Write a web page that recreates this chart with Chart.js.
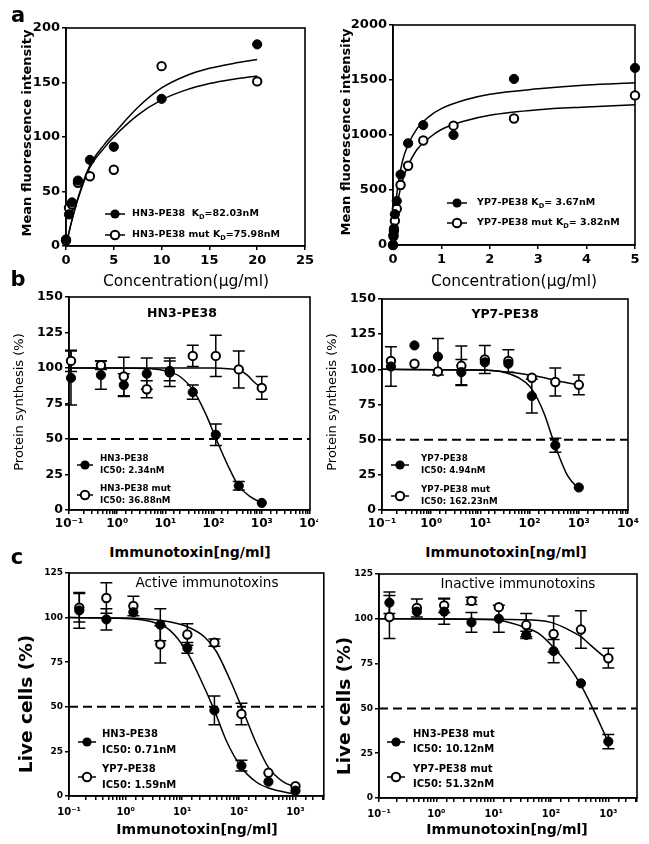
<!DOCTYPE html>
<html>
<head>
<meta charset="utf-8">
<script src="https://cdn.jsdelivr.net/npm/chart.js@4.4.0/dist/chart.umd.min.js"></script>
<style>
  body { margin: 0; background: #fff; width: 649px; height: 844px; position: relative; overflow: hidden; font-family: "DejaVu Sans", sans-serif; color: #000; }
  canvas { position: absolute; }
  .t { position: absolute; white-space: nowrap; transform: translate(-50%, -50%); }
  .v { transform: translate(-50%, -50%) rotate(-90deg); }
  .b { font-weight: bold; }
</style>
</head>
<body>
<canvas id="aL"></canvas>
<canvas id="aR"></canvas>
<canvas id="bL"></canvas>
<canvas id="bR"></canvas>
<canvas id="cL"></canvas>
<canvas id="cR"></canvas>

<div class="t b" style="left:18px;top:15px;font-size:21px">a</div>
<div class="t b" style="left:18px;top:279px;font-size:21px">b</div>
<div class="t b" style="left:17px;top:557px;font-size:21px">c</div>

<div class="t v b" style="left:26px;top:133px;font-size:13px">Mean fluorescence intensity</div>
<div class="t v b" style="left:345px;top:132px;font-size:13px">Mean fluorescence intensity</div>
<div class="t" style="left:186px;top:281px;font-size:15.5px">Concentration(μg/ml)</div>
<div class="t" style="left:514px;top:281px;font-size:15.5px">Concentration(μg/ml)</div>

<div class="t v" style="left:18px;top:402px;font-size:13px">Protein synthesis (%)</div>
<div class="t v" style="left:331px;top:402px;font-size:13px">Protein synthesis (%)</div>
<div class="t b" style="left:182px;top:312px;font-size:12.5px">HN3-PE38</div>
<div class="t b" style="left:505px;top:313px;font-size:12.5px">YP7-PE38</div>
<div class="t b" style="left:190px;top:552px;font-size:14px">Immunotoxin[ng/ml]</div>
<div class="t b" style="left:506px;top:552px;font-size:14px">Immunotoxin[ng/ml]</div>

<div class="t v b" style="left:25px;top:704px;font-size:18.5px">Live cells (%)</div>
<div class="t v b" style="left:343px;top:706px;font-size:18.5px">Live cells (%)</div>
<div class="t" style="left:207px;top:582px;font-size:13.6px">Active immunotoxins</div>
<div class="t" style="left:518px;top:583px;font-size:13.6px">Inactive immunotoxins</div>
<div class="t b" style="left:197px;top:829px;font-size:14px">Immunotoxin[ng/ml]</div>
<div class="t b" style="left:507px;top:829px;font-size:14px">Immunotoxin[ng/ml]</div>

<script>
// ---- a: binding (mean fluorescence intensity) ----
var hn3BindX = [0, 0.3125, 0.625, 1.25, 2.5, 5, 10, 20];
var hn3Mfi = [6, 29, 40, 60, 79, 91, 135, 185];
var hn3MutMfi = [5, 35, 38, 58, 64, 70, 165, 151];
var hn3FitX = [0, 0.3, 0.6, 1.25, 2.5, 4, 5, 7.5, 10, 12.5, 15, 17.5, 20];
var hn3Fit = [0, 12, 23, 44, 74, 93, 103, 127, 145, 156, 163, 167.5, 171];
var hn3MutFit = [0, 12, 23, 43, 72, 90, 100, 120, 134, 143, 149, 153, 156];

var yp7BindX = [0, 0.0098, 0.0195, 0.039, 0.078, 0.156, 0.3125, 0.625, 1.25, 2.5, 5];
var yp7Mfi = [0, 90, 150, 280, 400, 640, 925, 1090, 1000, 1510, 1610];
var yp7MutMfi = [0, 80, 130, 220, 330, 545, 720, 950, 1085, 1150, 1360];
var yp7FitX = [0, 0.05, 0.1, 0.2, 0.3, 0.5, 0.75, 1, 1.5, 2, 3, 4, 5];
var yp7Fit = [0, 330, 540, 770, 900, 1060, 1170, 1240, 1320, 1370, 1420, 1455, 1475];
var yp7MutFit = [0, 240, 400, 590, 710, 870, 975, 1050, 1130, 1180, 1230, 1255, 1275];

// ---- b: protein synthesis (%) ----
var hn3DoseX = [0.11, 0.46, 1.37, 4.1, 12.3, 37, 111, 333, 1000];
var hn3Synth = [93, 95, 88, 96, 98, 83, 53, 17, 5];
var hn3SynthSd = [19, 10, 8, 11, 7, 5, 7.5, 3, 0];
var hn3MutSynth = [105, 102, 94, 85, 97, 108.5, 108.5, 99, 86];
var hn3MutSynthSd = [7.5, 3, 13.5, 6, 10, 7.5, 14.5, 13, 8];
var hn3SynthFitX = [0.1, 1, 5, 10, 20, 40, 70, 110, 200, 330, 600, 1000];
var hn3SynthFit = [100, 100, 99.5, 98, 94, 83, 67, 51, 31, 17, 9, 5];
var hn3MutSynthFitX = [0.1, 100, 200, 333, 500, 700, 1000];
var hn3MutSynthFit = [100, 100, 99.5, 98.5, 95, 90, 86];

var doseX = [0.152, 0.457, 1.37, 4.1, 12.3, 37, 111, 333, 1000];
var yp7Synth = [102, 117, 109, 98, 105, 104, 81, 46, 16];
var yp7SynthSd = [14, 0, 13, 9, 0, 0, 12, 5, 0];
var yp7MutSynth = [106, 104, 98.5, 102.5, 107, 106, 94, 91, 89];
var yp7MutSynthSd = [0, 0, 0, 14, 10, 8, 0, 10, 7];
var yp7SynthFitX = [0.1, 10, 30, 60, 100, 150, 200, 300, 400, 600, 1000];
var yp7SynthFit = [100, 99.5, 98, 94, 88, 78, 68, 50, 38, 24, 15];
var yp7MutSynthFitX = [0.1, 10, 50, 100, 200, 400, 1000];
var yp7MutSynthFit = [100, 99.5, 97.5, 96, 94, 91.5, 89];

// ---- c: live cells (%) ----
var activeHn3 = [104, 99, 103, 96, 83, 48, 17, 8, 3];
var activeHn3Sd = [10, 6, 0, 9, 3, 8, 3, 0, 0];
var activeYp7 = [105.5, 111, 106.5, 85, 90.5, 86, 46, 13, 5.5];
var activeYp7Sd = [8, 8.5, 5.5, 10.5, 6, 2, 6, 0, 0];
var activeHn3FitX = [0.1, 1, 3, 6, 12, 20, 37, 60, 111, 200, 333, 1000];
var activeHn3Fit = [100, 99.5, 97.5, 93, 81, 67, 48, 31, 16, 8, 4.5, 1];
var activeYp7FitX = [0.1, 1, 4, 12, 25, 40, 70, 111, 200, 333, 600, 1000];
var activeYp7Fit = [100, 99.8, 98.5, 95, 89, 81, 65, 50, 30, 16, 8, 5];

var inactiveHn3 = [109, 104, 104, 98, 100, 91, 82, 64, 31.5];
var inactiveHn3Sd = [6, 0, 7, 5.5, 7.5, 2, 6.5, 0, 4];
var inactiveYp7 = [101, 106, 107.5, 110, 106.5, 96.5, 91.5, 94, 78];
var inactiveYp7Sd = [12, 5, 4, 2, 0, 6.5, 10, 10.5, 5.5];
var inactiveHn3FitX = [0.1, 10, 37, 60, 111, 200, 333, 500, 700, 1000];
var inactiveHn3Fit = [100, 99.5, 95, 92, 84, 74, 63, 52, 42, 31];
var inactiveYp7FitX = [0.1, 30, 100, 200, 333, 500, 700, 1000];
var inactiveYp7Fit = [100, 99.5, 98, 94, 90, 85, 81, 77];

var FONT = '"DejaVu Sans", sans-serif';
var sup = { '-1': '⁻¹', '0': '⁰', '1': '¹', '2': '²', '3': '³', '4': '⁴' };

function pts(xs, ys) {
  return xs.map(function (x, i) { return { x: x, y: ys[i] }; });
}
function decadeLabel(v) {
  var p = Math.log10(v), r = Math.round(p);
  if (Math.abs(p - r) > 1e-6 || sup[r] === undefined) return '';
  return '10' + sup[r];
}
function plain(v) { return String(v); }

function filled(xs, ys, sd) {
  return { data: pts(xs, ys), errs: sd, showLine: false, pointRadius: 4.6, pointBackgroundColor: '#000', pointBorderColor: '#000', pointBorderWidth: 1, order: 0, clip: false };
}
function open(xs, ys, sd) {
  return { data: pts(xs, ys), errs: sd, showLine: false, pointRadius: 4.2, pointBackgroundColor: '#fff', pointBorderColor: '#000', pointBorderWidth: 2, order: 1, clip: false };
}
function fit(xs, ys) {
  return { data: pts(xs, ys), showLine: true, borderColor: '#000', borderWidth: 1.5, pointRadius: 0, cubicInterpolationMode: 'monotone', order: 3, clip: false };
}
function cut(x0, x1) {
  return { data: [{ x: x0, y: 50 }, { x: x1, y: 50 }], showLine: true, borderColor: '#000', borderWidth: 2, borderDash: [9, 5], pointRadius: 0, order: 4 };
}

// error bars and the box round the plot
var frame = {
  id: 'frame',
  beforeDatasetsDraw: function (chart) {
    var ctx = chart.ctx, sx = chart.scales.x, sy = chart.scales.y;
    ctx.save();
    ctx.strokeStyle = '#000';
    ctx.lineWidth = 1.5;
    chart.data.datasets.forEach(function (ds) {
      if (!ds.errs) return;
      ds.data.forEach(function (p, i) {
        var e = ds.errs[i];
        if (!e) return;
        var x = sx.getPixelForValue(p.x);
        var y1 = sy.getPixelForValue(p.y + e), y2 = sy.getPixelForValue(p.y - e);
        ctx.beginPath();
        ctx.moveTo(x, y1); ctx.lineTo(x, y2);
        ctx.moveTo(x - 6, y1); ctx.lineTo(x + 6, y1);
        ctx.moveTo(x - 6, y2); ctx.lineTo(x + 6, y2);
        ctx.stroke();
      });
    });
    var a = chart.chartArea;
    ctx.lineWidth = 1.6;
    ctx.strokeRect(a.left, a.top, a.right - a.left, a.bottom - a.top);
    ctx.restore();
  }
};

// GraphPad style key: short line with a marker, text beside it
var key = {
  id: 'key',
  afterDatasetsDraw: function (chart, args, o) {
    if (!o.items) return;
    var ctx = chart.ctx, a = chart.chartArea;
    o.items.forEach(function (it) {
      var x = a.left + it.x, y = a.top + it.y;
      ctx.save();
      ctx.strokeStyle = '#000';
      ctx.lineWidth = 1.5;
      ctx.beginPath(); ctx.moveTo(x - o.seg, y); ctx.lineTo(x + o.seg, y); ctx.stroke();
      ctx.beginPath(); ctx.arc(x, y, it.filled ? 4.6 : 4.2, 0, Math.PI * 2);
      ctx.fillStyle = it.filled ? '#000' : '#fff';
      ctx.fill();
      if (!it.filled) { ctx.lineWidth = 2; ctx.stroke(); }
      ctx.fillStyle = '#000';
      ctx.textBaseline = 'middle';
      it.lines.forEach(function (line, k) {
        var tx = x + o.tx, ty = y + o.dy[k];
        line.forEach(function (seg) {
          ctx.font = seg[1] ? 'bold ' + (o.size * 0.7) + 'px ' + FONT : 'bold ' + o.size + 'px ' + FONT;
          ctx.fillText(seg[0], tx, seg[1] ? ty + 3 : ty);
          tx += ctx.measureText(seg[0]).width;
        });
      });
      ctx.restore();
    });
  }
};

function panel(id, box, plot, xs, ys, datasets, legend) {
  var cv = document.getElementById(id);
  cv.width = box[2]; cv.height = box[3];
  cv.style.left = box[0] + 'px'; cv.style.top = box[1] + 'px';
  var yw = plot[0] - box[0], xh = box[1] + box[3] - plot[3];
  var axis = function (o, fitFn) {
    return Object.assign({
      grid: { display: true, drawOnChartArea: false, drawTicks: true, tickLength: 4, color: '#000', lineWidth: 1.5 },
      border: { display: true, color: '#000', width: 1.6 },
      afterFit: fitFn
    }, o);
  };
  new Chart(cv, {
    type: 'scatter',
    data: { datasets: datasets },
    options: {
      responsive: false, animation: false, events: [],
      layout: { padding: { top: plot[1] - box[1], right: box[0] + box[2] - plot[2], left: 0, bottom: 0 } },
      plugins: { legend: { display: false }, tooltip: { enabled: false }, key: legend },
      scales: {
        x: axis(xs, function (s) { s.height = xh; s.paddingLeft = 0; s.paddingRight = 0; }),
        y: axis(ys, function (s) { s.width = yw; s.paddingTop = 0; s.paddingBottom = 0; })
      }
    },
    plugins: [frame, key]
  });
}

function linX(max, step, size) {
  return { type: 'linear', min: 0, max: max, ticks: { stepSize: step, color: '#000', padding: 3, maxRotation: 0, callback: plain, font: { family: FONT, size: size, weight: 'bold' } } };
}
function logX(max, size, pad) {
  return { type: 'logarithmic', min: 0.1, max: max, ticks: { autoSkip: false, color: '#000', padding: pad, maxRotation: 0, callback: decadeLabel, font: { family: FONT, size: size, weight: 'bold' } } };
}
function linY(max, step, size) {
  return { type: 'linear', min: 0, max: max, ticks: { stepSize: step, color: '#000', padding: 2, callback: plain, font: { family: FONT, size: size, weight: 'bold' } } };
}

panel('aL', [0, 10, 322, 266], [66, 28, 305, 246], linX(25, 5, 13), linY(200, 50, 13), [
  filled(hn3BindX, hn3Mfi), open(hn3BindX, hn3MutMfi),
  fit(hn3FitX, hn3Fit), fit(hn3FitX, hn3MutFit)
], { seg: 10, tx: 17, size: 9.5, dy: [0], items: [
  { x: 49, y: 186, filled: true, lines: [[['HN3-PE38  K'], ['D', 1], ['=82.03nM']]] },
  { x: 49, y: 207, filled: false, lines: [[['HN3-PE38 mut K'], ['D', 1], ['=75.98nM']]] }
] });

panel('aR', [328, 8, 321, 268], [393, 25, 635, 245], linX(5, 1, 13), linY(2000, 500, 13), [
  filled(yp7BindX, yp7Mfi), open(yp7BindX, yp7MutMfi),
  fit(yp7FitX, yp7Fit), fit(yp7FitX, yp7MutFit)
], { seg: 10, tx: 20, size: 9.5, dy: [0], items: [
  { x: 64, y: 178, filled: true, lines: [[['YP7-PE38 K'], ['D', 1], ['= 3.67nM']]] },
  { x: 64, y: 198, filled: false, lines: [[['YP7-PE38 mut K'], ['D', 1], ['= 3.82nM']]] }
] });

panel('bL', [0, 288, 318, 240], [69, 297, 310, 510], logX(10000, 12, 3), linY(150, 25, 12.5), [
  filled(hn3DoseX, hn3Synth, hn3SynthSd), open(hn3DoseX, hn3MutSynth, hn3MutSynthSd),
  fit(hn3SynthFitX, hn3SynthFit), fit(hn3MutSynthFitX, hn3MutSynthFit), cut(0.1, 10000)
], { seg: 8, tx: 15, size: 8.7, dy: [-6, 6], items: [
  { x: 16, y: 168, filled: true, lines: [[['HN3-PE38']], [['IC50: 2.34nM']]] },
  { x: 16, y: 198, filled: false, lines: [[['HN3-PE38 mut']], [['IC50: 36.88nM']]] }
] });

panel('bR', [328, 288, 321, 240], [382, 299, 628, 510], logX(10000, 12, 3), linY(150, 25, 12.5), [
  filled(doseX, yp7Synth, yp7SynthSd), open(doseX, yp7MutSynth, yp7MutSynthSd),
  fit(yp7SynthFitX, yp7SynthFit), fit(yp7MutSynthFitX, yp7MutSynthFit), cut(0.1, 10000)
], { seg: 9, tx: 21, size: 8.7, dy: [-6, 6], items: [
  { x: 18, y: 166, filled: true, lines: [[['YP7-PE38']], [['IC50: 4.94nM']]] },
  { x: 18, y: 197, filled: false, lines: [[['YP7-PE38 mut']], [['IC50: 162.23nM']]] }
] });

panel('cL', [0, 565, 330, 262], [69, 573, 325, 796], logX(3162, 10, 6), linY(125, 25, 9), [
  filled(doseX, activeHn3, activeHn3Sd), open(doseX, activeYp7, activeYp7Sd),
  fit(activeHn3FitX, activeHn3Fit), fit(activeYp7FitX, activeYp7Fit), cut(0.1, 3162)
], { seg: 9, tx: 15, size: 10, dy: [-8, 8], items: [
  { x: 18, y: 169, filled: true, lines: [[['HN3-PE38']], [['IC50: 0.71nM']]] },
  { x: 18, y: 204, filled: false, lines: [[['YP7-PE38']], [['IC50: 1.59nM']]] }
] });

panel('cR', [330, 565, 319, 262], [379, 574, 637, 798], logX(3162, 10, 6), linY(125, 25, 9), [
  filled(doseX, inactiveHn3, inactiveHn3Sd), open(doseX, inactiveYp7, inactiveYp7Sd),
  fit(inactiveHn3FitX, inactiveHn3Fit), fit(inactiveYp7FitX, inactiveYp7Fit), cut(0.1, 3162)
], { seg: 9, tx: 17, size: 10, dy: [-8, 7], items: [
  { x: 17, y: 168, filled: true, lines: [[['HN3-PE38 mut']], [['IC50: 10.12nM']]] },
  { x: 17, y: 203, filled: false, lines: [[['YP7-PE38 mut']], [['IC50: 51.32nM']]] }
] });
</script>
</body>
</html>
